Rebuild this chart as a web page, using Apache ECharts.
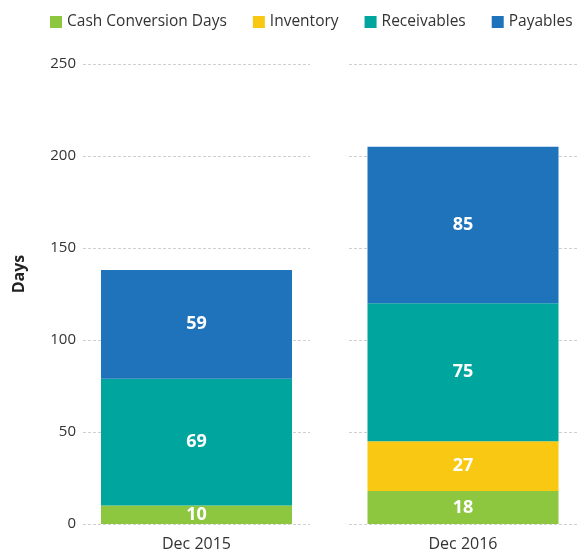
<!DOCTYPE html>
<html>
<head>
<meta charset="utf-8">
<title>Cash Conversion Days</title>
<script src="https://cdn.jsdelivr.net/npm/echarts@6/dist/echarts.min.js"></script>
<style>
  html, body {margin: 0; padding: 0; background: #fff;}
  #main {width: 583px; height: 556px;}
</style>
</head>
<body>
<div id="main"></div>
<script>
// 数据
const categories = ['Dec 2015', 'Dec 2016'];
const seriesNames = ['Cash Conversion Days', 'Inventory', 'Receivables', 'Payables'];
const cashDays = [10, 18];
const inventory = [0, 27];
const receivables = [69, 75];
const payables = [59, 85];
const yTicks = {min: 0, max: 250, interval: 50};

const seriesValues = [cashDays, inventory, receivables, payables];
const colors = ['#8dc63f', '#f8c813', '#00a69d', '#1f73bb'];
const fontFamily = '"Open Sans", "Noto Sans", sans-serif';

// 每个类别单独一个grid，让网格线在两根柱子之间断开
const grids = [
  {left: 83, top: 64, width: 227, height: 460},
  {left: 349, top: 64, width: 228, height: 460}
];

const xAxes = categories.map((c, i) => ({
  type: 'category',
  gridIndex: i,
  data: [c],
  axisLine: {show: false},
  axisTick: {show: false},
  axisLabel: {color: '#333', fontSize: 16, margin: 12, fontFamily: fontFamily}
}));

const yAxes = categories.map((c, i) => ({
  type: 'value',
  gridIndex: i,
  min: yTicks.min,
  max: yTicks.max,
  interval: yTicks.interval,
  name: i === 0 ? 'Days' : '',
  nameLocation: 'middle',
  nameGap: 56,
  nameTextStyle: {color: '#222', fontSize: 16, fontWeight: 'bold', fontFamily: fontFamily, padding: [0, 0, 0, 40]},
  axisLine: {show: false},
  axisTick: {show: false},
  axisLabel: {show: i === 0, color: '#333', fontSize: 15, margin: 7, fontFamily: fontFamily},
  splitLine: {lineStyle: {color: '#d0d0d0', type: [3, 2], width: 1}}
}));

const series = [];
categories.forEach((c, i) => {
  seriesNames.forEach((name, k) => {
    series.push({
      name: name,
      type: 'bar',
      stack: 'days' + i,
      xAxisIndex: i,
      yAxisIndex: i,
      barWidth: 191,
      itemStyle: {color: colors[k]},
      label: {
        show: true,
        position: 'inside',
        color: '#fff',
        fontSize: 18,
        fontWeight: 'bold',
        fontFamily: fontFamily,
        formatter: (p) => (p.value ? String(p.value) : '')
      },
      emphasis: {disabled: true},
      data: [seriesValues[k][i]]
    });
  });
});

const option = {
  animation: false,
  color: colors,
  legend: {
    data: seriesNames,
    left: 50,
    top: 14,
    width: 533,
    padding: 0,
    icon: 'rect',
    itemWidth: 12,
    itemHeight: 12,
    itemGap: 26,
    textStyle: {color: '#333', fontSize: 15.5, fontFamily: fontFamily}
  },
  grid: grids,
  xAxis: xAxes,
  yAxis: yAxes,
  series: series
};

const myChart = echarts.init(document.getElementById('main'));
myChart.setOption(option);
</script>
</body>
</html>
